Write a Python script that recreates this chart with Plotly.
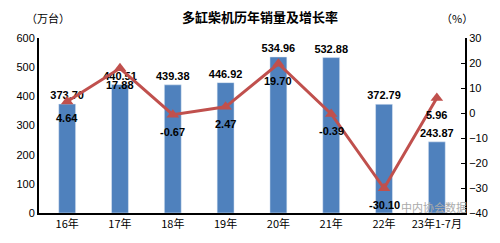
import plotly.graph_objects as go

categories = ["16年", "17年", "18年", "19年", "20年", "21年", "22年", "23年1-7月"]
sales = [373.70, 440.51, 439.38, 446.92, 534.96, 532.88, 372.79, 243.87]
growth = [4.64, 17.88, -0.67, 2.47, 19.70, -0.39, -30.10, 5.96]
left_ticks = [0, 100, 200, 300, 400, 500, 600]
right_ticks = [-40, -30, -20, -10, 0, 10, 20, 30]

num_font = dict(family="Liberation Sans, Arial", size=11, color="black")

fig = go.Figure()
fig.add_trace(go.Bar(
    x=categories, y=sales, marker_color="#4F81BD",
    text=[f"<b>{v:.2f}</b>" for v in sales], textposition="outside",
    constraintext="none",
    textfont=num_font, cliponaxis=False, yaxis="y"))
fig.add_trace(go.Scatter(
    x=categories, y=growth, yaxis="y2", mode="lines+markers",
    line=dict(color="#C0504D", width=3),
    marker=dict(symbol="triangle-up", size=11, color="#C0504D"),
    cliponaxis=False))

annotations = [
    dict(text="<b>多缸柴机历年销量及增长率</b>", x=0.5, y=1.0, xref="paper", yref="paper",
         xanchor="center", yanchor="bottom", yshift=10, showarrow=False,
         font=dict(family="Noto Sans CJK SC", size=13, color="black"), xshift=8),
    dict(text="（万台）", x=0, y=1.0, xref="paper", yref="paper", xanchor="left",
         yanchor="bottom", yshift=10, xshift=-15, showarrow=False,
         font=dict(family="Noto Sans CJK SC", size=11, color="black")),
    dict(text="（%）", x=1, y=1.0, xref="paper", yref="paper", xanchor="right",
         yanchor="bottom", yshift=10, xshift=10, showarrow=False,
         font=dict(family="Noto Sans CJK SC", size=11, color="black")),
    dict(text="中内协会数据", x=1, y=0, xref="paper", yref="paper", xanchor="right",
         yanchor="bottom", xshift=4, yshift=-4, showarrow=False,
         font=dict(family="Noto Sans CJK SC", size=11, color="#aaaaaa")),
]
for c, g in zip(categories, growth):
    annotations.append(dict(text=f"<b>{g:.2f}</b>", x=c, y=g, xref="x", yref="y2",
                            showarrow=False, yshift=-17, font=num_font))

fig.update_layout(
    width=500, height=243, margin=dict(l=39, r=30, t=38, b=23),
    paper_bgcolor="white", plot_bgcolor="white", showlegend=False,
    bargap=0.68,
    xaxis=dict(showline=True, linecolor="black", linewidth=2, ticks="",
               tickfont=dict(family="Noto Sans CJK SC", size=11, color="black")),
    yaxis=dict(range=[0, 600], tickvals=left_ticks, showgrid=False, zeroline=False,
               showline=True, linecolor="black", linewidth=2,
               tickfont=dict(family="Liberation Sans, Arial", size=11, color="black")),
    yaxis2=dict(range=[-40, 30], tickvals=right_ticks, overlaying="y", side="right",
                showgrid=False, zeroline=False, showline=True, linecolor="black",
                linewidth=2, ticks="inside", ticklen=4, tickcolor="black",
                tickfont=dict(family="Liberation Sans, Arial", size=11, color="black")),
    annotations=annotations)

fig.write_html("out.html")
